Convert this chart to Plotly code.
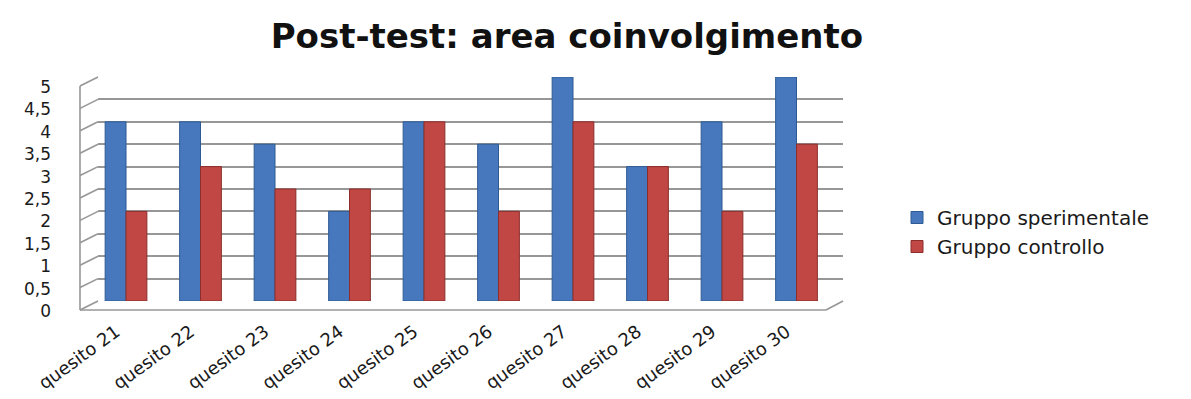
import plotly.graph_objects as go

# Chart data
categories = ["quesito 21", "quesito 22", "quesito 23", "quesito 24", "quesito 25",
              "quesito 26", "quesito 27", "quesito 28", "quesito 29", "quesito 30"]
sperimentale = [4, 4, 3.5, 2, 4, 3.5, 5, 3, 4, 5]
controllo = [2, 3, 2.5, 2.5, 4, 2, 4, 3, 2, 3.5]
series_names = ["Gruppo sperimentale", "Gruppo controllo"]
ytick_vals = [0, 0.5, 1, 1.5, 2, 2.5, 3, 3.5, 4, 4.5, 5]
ytick_text = ["0", "0,5", "1", "1,5", "2", "2,5", "3", "3,5", "4", "4,5", "5"]

W, H = 1191, 399
L, R = 98, 843          # back wall, left/right pixel edges
T, B = 77, 301          # back wall, top/bottom pixel edges
YMAX = 5

BLUE, BLUE_EDGE = "#4778BD", "#2E5A94"
RED, RED_EDGE = "#C04743", "#8C2E2B"
WALL = "#979797"
FONT = "DejaVu Sans"

fig = go.Figure()
fig.add_trace(go.Bar(
    x=categories, y=sperimentale, name=series_names[0], legendgroup="a",
    marker=dict(color=BLUE, line=dict(color=BLUE_EDGE, width=1)),
))
fig.add_trace(go.Bar(
    x=categories, y=controllo, name=series_names[1], legendgroup="b",
    marker=dict(color=RED, line=dict(color=RED_EDGE, width=1)),
))


def px_x(p):
    return (p - L) / (R - L)


# pseudo-3D frame: left side wall and floor edge
depth_x = px_x(80)
depth_y = -0.2 / YMAX
line = dict(color=WALL, width=1.6)
shapes = []
for v in ytick_vals:
    shapes.append(dict(type="line", xref="paper", yref="paper",
                       x0=depth_x, y0=v / YMAX + depth_y, x1=0, y1=v / YMAX, line=line))
shapes.append(dict(type="line", xref="paper", yref="paper",
                   x0=depth_x, y0=depth_y, x1=depth_x, y1=1 + depth_y, line=line))
shapes.append(dict(type="line", xref="paper", yref="paper",
                   x0=depth_x, y0=depth_y, x1=px_x(826), y1=depth_y, line=line))
shapes.append(dict(type="line", xref="paper", yref="paper",
                   x0=px_x(826), y0=depth_y, x1=1, y1=0, line=line))

fig.update_layout(
    width=W, height=H,
    margin=dict(l=L, r=W - R, t=T, b=H - B, pad=0, autoexpand=False),
    paper_bgcolor="white", plot_bgcolor="white",
    font=dict(family=FONT, color="#1A1A1A"),
    title=dict(text="<b>Post-test: area coinvolgimento</b>",
               font=dict(family=FONT, size=34, color="#111111"),
               xref="container", x=0.476, xanchor="center",
               yref="container", y=1 - 36 / H, yanchor="middle"),
    barmode="group", bargap=0.44, bargroupgap=0,
    xaxis=dict(range=[-0.376, 9.624], showgrid=False, zeroline=False,
               showline=False, ticks="", tickangle=-36, automargin=False,
               tickfont=dict(family=FONT, size=18, color="#1A1A1A"),
               ticklabelstandoff=16, ticklabelshift=-10),
    yaxis=dict(range=[0, YMAX], tickvals=ytick_vals, ticktext=ytick_text,
               showgrid=True, gridcolor=WALL, gridwidth=1.6, automargin=False,
               zeroline=False, showline=False, ticks="",
               tickfont=dict(family=FONT, size=17, color="#1A1A1A"),
               ticklabelstandoff=46, ticklabelshift=10),
    legend=dict(x=px_x(897), xanchor="left", y=(B - 232) / (B - T), yanchor="middle",
                font=dict(family=FONT, size=20, color="#1A1A1A"),
                traceorder="normal", tracegroupgap=15, bgcolor="rgba(0,0,0,0)"),
    shapes=shapes,
    showlegend=True,
)

fig.write_html("out.html")
